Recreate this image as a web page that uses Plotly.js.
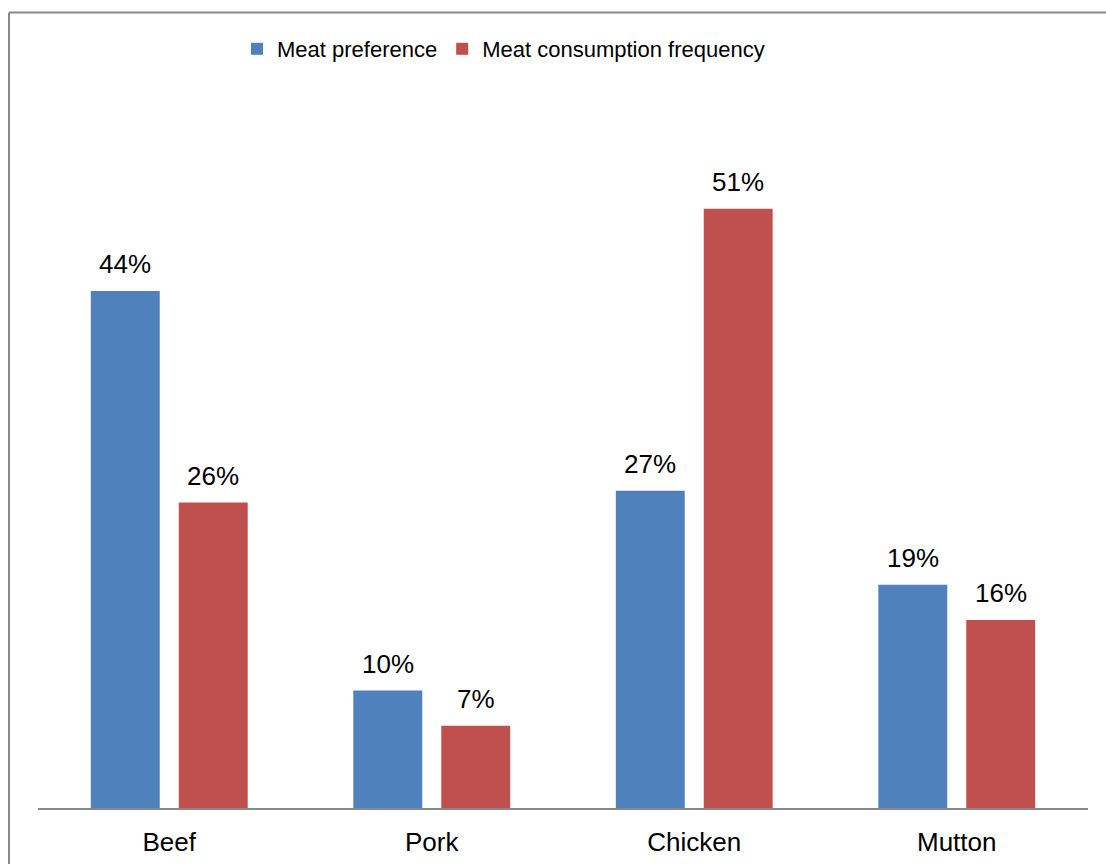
<!DOCTYPE html>
<html>
<head>
<meta charset="utf-8">
<script src="https://cdn.plot.ly/plotly-3.0.1.min.js"></script>
<style>
  html, body { margin: 0; padding: 0; background: #fff; }
  #chart { width: 1106px; height: 864px; }
</style>
</head>
<body>
<div id="chart"></div>
<script>
// Meat survey results, percent of respondents
const categories = ["Beef", "Pork", "Chicken", "Mutton"];
const preference = [44, 10, 27, 19];
const consumption = [26, 7, 51, 16];
const seriesNames = ["Meat preference", "Meat consumption frequency"];

const BLUE = "#4F81BD";
const RED = "#C0504D";
const FONT = "Liberation Sans, Arial, sans-serif";

const traces = [
  { type: "bar", name: seriesNames[0], x: categories, y: preference,
    marker: { color: BLUE }, hoverinfo: "x+y" },
  { type: "bar", name: seriesNames[1], x: categories, y: consumption,
    marker: { color: RED }, hoverinfo: "x+y" }
];

// Value labels above each bar, shifted sideways to sit over their bar in the group
const SLOT = 44;
const annotations = [];
[preference, consumption].forEach((vals, s) => {
  vals.forEach((v, i) => {
    annotations.push({
      x: categories[i], y: v, xref: "x", yref: "y",
      text: v + "%", showarrow: false,
      xanchor: "center", yanchor: "bottom",
      xshift: s === 0 ? -SLOT : SLOT, yshift: 10,
      font: { family: FONT, size: 26, color: "#000" }
    });
  });
});

// Frame lines along the top and left edges of the chart
const frame = { color: "#878787", width: 2 };
const shapes = [
  { type: "line", xref: "paper", yref: "paper", x0: -0.0276, x1: 1.02, y0: 1.1285, y1: 1.1285, line: frame },
  { type: "line", xref: "paper", yref: "paper", x0: -0.0276, x1: -0.0276, y0: 1.1285, y1: -0.09, line: frame }
];

const layout = {
  width: 1106, height: 864,
  margin: { l: 38, r: 18, t: 103, b: 56, autoexpand: false },
  paper_bgcolor: "#fff", plot_bgcolor: "#fff",
  barmode: "group", bargap: 0.33, bargroupgap: 0.216,
  showlegend: true,
  legend: {
    orientation: "h", x: 0.1895, xanchor: "left", y: 1.0766, yanchor: "middle",
    bgcolor: "rgba(0,0,0,0)",
    font: { family: FONT, size: 22, color: "#000" }, itemclick: false
  },
  xaxis: {
    showline: true, linecolor: "#888", linewidth: 2,
    ticks: "", showgrid: false, zeroline: false,
    ticklabelstandoff: 10,
    tickfont: { family: FONT, size: 26, color: "#000" }
  },
  yaxis: {
    range: [0, 60], visible: false, showgrid: false, zeroline: false
  },
  annotations: annotations,
  shapes: shapes
};

Plotly.newPlot("chart", traces, layout, { displayModeBar: false, responsive: false });
</script>
</body>
</html>
